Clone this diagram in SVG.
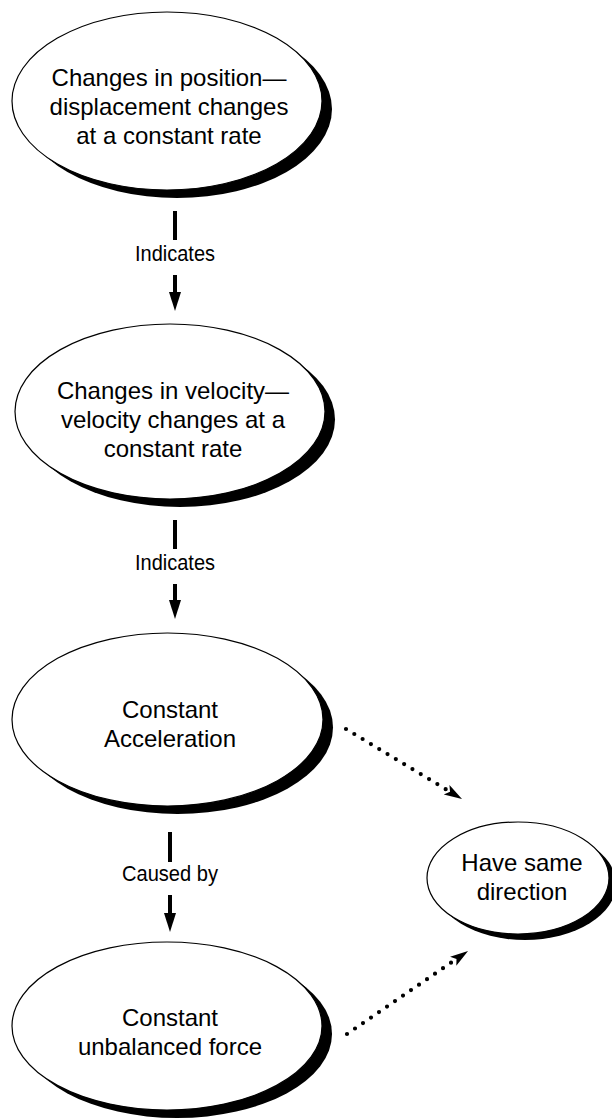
<svg xmlns="http://www.w3.org/2000/svg" width="612" height="1118" viewBox="0 0 612 1118">
<style>
.shadow{fill:#000;stroke:none}
.body{fill:#fff;stroke:#000;stroke-width:1.2}
.nt{font-family:"Liberation Sans",Arial,sans-serif;font-size:24px;fill:#000;text-anchor:middle}
.lt{font-family:"Liberation Sans",Arial,sans-serif;font-size:22px;fill:#000;text-anchor:middle}
.solid{stroke:#000;stroke-width:4;fill:none}
.dotted{stroke:#000;stroke-width:4.2;fill:none;stroke-linecap:round;stroke-dasharray:0 9.7}
</style>
<defs>
<marker id="tri" markerUnits="userSpaceOnUse" viewBox="0 -7 20 14" markerWidth="20" markerHeight="14" refX="0" refY="0" orient="auto">
<path d="M0,-6 L19,0 L0,6 Z" fill="#000"/>
</marker>
<marker id="stealth" markerUnits="userSpaceOnUse" viewBox="0 -7 20 14" markerWidth="20" markerHeight="14" refX="0" refY="0" orient="auto">
<path d="M0,-5.5 L18,0 L0,5.5 L4,0 Z" fill="#000"/>
</marker>
</defs>
<rect width="612" height="1118" fill="#fff"/>
<g id="connectors">
<line class="solid" x1="175" y1="211" x2="175" y2="240"/>
<text class="lt" x="175" y="261" textLength="80" lengthAdjust="spacingAndGlyphs">Indicates</text>
<line class="solid" x1="175" y1="275" x2="175" y2="292" marker-end="url(#tri)"/>
<line class="solid" x1="175" y1="520" x2="175" y2="549"/>
<text class="lt" x="175" y="570" textLength="80" lengthAdjust="spacingAndGlyphs">Indicates</text>
<line class="solid" x1="175" y1="584" x2="175" y2="600" marker-end="url(#tri)"/>
<line class="solid" x1="170" y1="832" x2="170" y2="862"/>
<text class="lt" x="170" y="881" textLength="96" lengthAdjust="spacingAndGlyphs">Caused by</text>
<line class="solid" x1="170" y1="895" x2="170" y2="913" marker-end="url(#tri)"/>
<path class="dotted" d="M346,729 L446.6,789.7" marker-end="url(#stealth)"/>
<path class="dotted" d="M347,1034 L453.2,961.2" marker-end="url(#stealth)"/>
</g>
<g id="node1">
<ellipse class="shadow" cx="177" cy="109" rx="155" ry="89"/>
<ellipse class="body" cx="167" cy="101" rx="155" ry="89"/>
<text class="nt" x="169" y="86">Changes in position—</text>
<text class="nt" x="169" y="115">displacement changes</text>
<text class="nt" x="169" y="144">at a constant rate</text>
</g>
<g id="node2">
<ellipse class="shadow" cx="180" cy="419.5" rx="155" ry="87.5"/>
<ellipse class="body" cx="170" cy="411.5" rx="155" ry="87.5"/>
<text class="nt" x="173" y="399">Changes in velocity—</text>
<text class="nt" x="173" y="428">velocity changes at a</text>
<text class="nt" x="173" y="457">constant rate</text>
</g>
<g id="node3">
<ellipse class="shadow" cx="177.5" cy="727.5" rx="155.5" ry="86.5"/>
<ellipse class="body" cx="167.5" cy="719.5" rx="155.5" ry="86.5"/>
<text class="nt" x="170" y="718">Constant</text>
<text class="nt" x="170" y="747">Acceleration</text>
</g>
<g id="node4">
<ellipse class="shadow" cx="177" cy="1034" rx="155" ry="84"/>
<ellipse class="body" cx="167" cy="1026" rx="155" ry="84"/>
<text class="nt" x="170" y="1026">Constant</text>
<text class="nt" x="170" y="1055">unbalanced force</text>
</g>
<g id="node5">
<ellipse class="shadow" cx="525" cy="884" rx="91" ry="56"/>
<ellipse class="body" cx="518" cy="878" rx="91" ry="56"/>
<text class="nt" x="522" y="871">Have same</text>
<text class="nt" x="522" y="900">direction</text>
</g>
</svg>
